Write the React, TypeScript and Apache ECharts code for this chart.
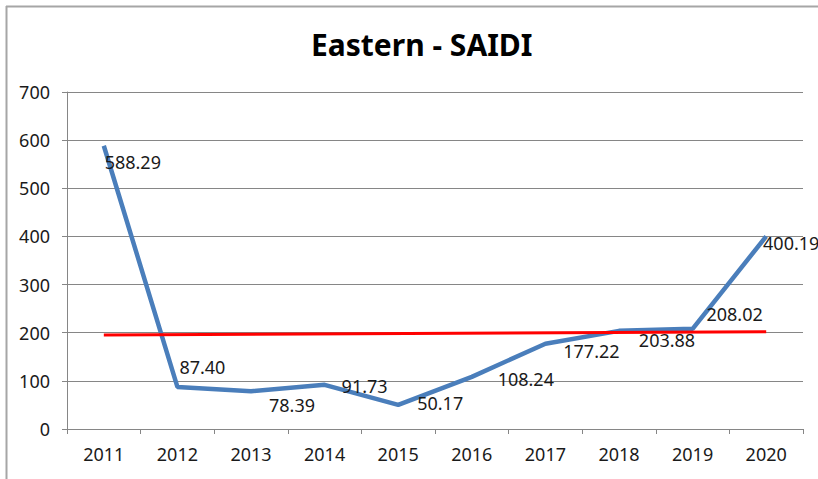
import React, { useEffect, useRef } from "react";
import * as echarts from "echarts";

const years = ["2011", "2012", "2013", "2014", "2015", "2016", "2017", "2018", "2019", "2020"];
const saidi = [588.29, 87.4, 78.39, 91.73, 50.17, 108.24, 177.22, 203.88, 208.02, 400.19];
const target = [195, null, null, null, null, null, null, null, null, 202];

const labelOffsets: [number, number][] = [
  [29, 16], [25, -20], [41, 14], [40, 1], [42, -2],
  [54, 2], [46, 7], [48, 9], [42, -15], [25, 7],
];

const FONT = "'Noto Sans', 'Open Sans', sans-serif";

export default function App() {
  const ref = useRef<HTMLDivElement>(null);
  useEffect(() => {
    document.body.style.margin = "0";
    const chart = echarts.init(ref.current!, null, { renderer: "svg" });
    chart.setOption({
      animation: false,
      backgroundColor: "#ffffff",
      title: {
        text: "Eastern - SAIDI",
        left: 306,
        top: 24,
        textStyle: { fontFamily: FONT, fontSize: 30, fontWeight: "bold", color: "#000" },
      },
      graphic: [
        { type: "line", shape: { x1: 6, y1: 6.5, x2: 818, y2: 6.5 }, style: { stroke: "#a6a6a6", lineWidth: 2 } },
        { type: "line", shape: { x1: 6.5, y1: 6, x2: 6.5, y2: 479 }, style: { stroke: "#a6a6a6", lineWidth: 2 } },
      ],
      grid: { left: 67, right: 15, top: 92, bottom: 50, containLabel: false },
      xAxis: {
        type: "category",
        data: years,
        boundaryGap: true,
        axisLine: { lineStyle: { color: "#868686", width: 1 } },
        axisTick: { show: true, length: 5, alignWithLabel: false, lineStyle: { color: "#868686" } },
        axisLabel: { fontFamily: FONT, fontSize: 18, color: "#1a1a1a", margin: 16 },
      },
      yAxis: {
        type: "value",
        min: 0,
        max: 700,
        interval: 100,
        axisLine: { show: true, lineStyle: { color: "#868686", width: 1 } },
        axisTick: { show: true, length: 5, lineStyle: { color: "#868686" } },
        axisLabel: { fontFamily: FONT, fontSize: 18, color: "#1a1a1a", margin: 17 },
        splitLine: { show: true, lineStyle: { color: "#868686", width: 1 } },
      },
      series: [
        {
          type: "line",
          data: saidi.map((v, i) => ({
            value: v,
            label: { offset: labelOffsets[i] },
          })),
          symbol: "circle",
          symbolSize: 1,
          showSymbol: true,
          itemStyle: { color: "rgba(0,0,0,0)", borderWidth: 0 },
          lineStyle: { color: "#4a7ebb", width: 4.5 },
          label: {
            show: true,
            position: "inside",
            align: "center",
            verticalAlign: "middle",
            fontFamily: FONT,
            fontSize: 18,
            color: "#1a1a1a",
            formatter: (p: any) => Number(p.value).toFixed(2),
          },
          z: 2,
        },
        {
          type: "line",
          data: target,
          connectNulls: true,
          symbol: "none",
          lineStyle: { color: "#ff0000", width: 3 },
          z: 3,
        },
      ],
    });
    return () => chart.dispose();
  }, []);
  return <div ref={ref} style={{ width: 818, height: 479 }} />;
}
